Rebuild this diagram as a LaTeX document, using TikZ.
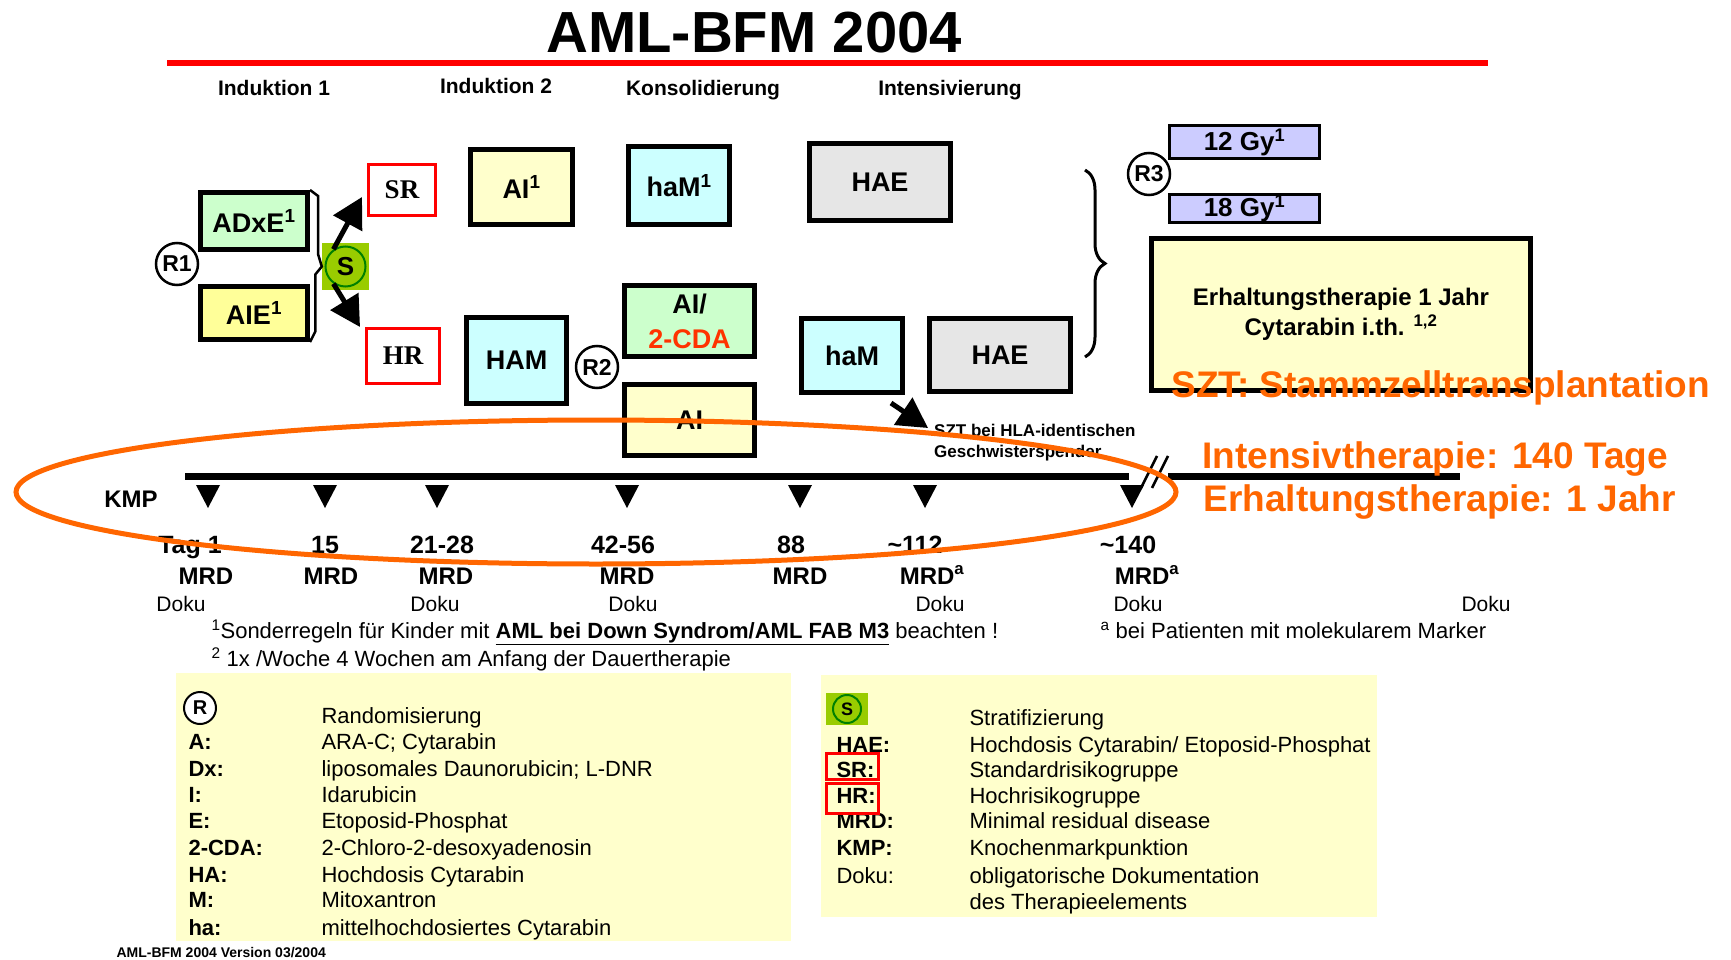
\documentclass[tikz,border=0pt]{standalone}
\usepackage{fontspec}
\setmainfont{Liberation Sans}
\newfontfamily\timesfont{Liberation Serif}
\usetikzlibrary{shapes,positioning,arrows.meta,calc,decorations.pathreplacing}

\definecolor{boxgreen}{HTML}{CCFFCC}
\definecolor{boxyellow}{HTML}{FFFF99}
\definecolor{paleyellow}{HTML}{FFFFCC}
\definecolor{boxcyan}{HTML}{CCFFFF}
\definecolor{boxgrey}{HTML}{E6E6E6}
\definecolor{boxlilac}{HTML}{CCCCFF}
\definecolor{sztorange}{HTML}{FF6600}
\definecolor{sgreen}{HTML}{99CC00}
\definecolor{sring}{HTML}{008000}
\definecolor{cdared}{HTML}{FF3300}

\newcommand{\fsz}[1]{\fontsize{#1}{#1}\selectfont}

\begin{document}
\begin{tikzpicture}[x=1pt,y=-1pt,
					therapy/.style={draw, line width=5pt, inner sep=0pt, font=\bfseries\fsz{27}},
					risk/.style={draw=red, line width=3pt, fill=white, inner sep=0pt, font=\timesfont\bfseries\fsz{27}},
					rnd/.style={draw, circle, line width=2.5pt, fill=white, minimum size=42pt, inner sep=0pt, font=\bfseries\fsz{23}},
					gy/.style={draw, line width=2.5pt, fill=boxlilac, inner sep=0pt, minimum width=150pt, font=\bfseries\fsz{26}},
					phase/.style={anchor=base, font=\bfseries\fsz{21}},
					day/.style={anchor=base, font=\bfseries\fsz{25}},
					mrd/.style={anchor=base, font=\bfseries\fsz{24}},
					doku/.style={anchor=base, font=\fsz{21}},
					bigtext/.style={anchor=base west, text=sztorange, font=\bfseries\fsz{37}},
					abbr/.style={anchor=base west, font=\bfseries\fsz{22}},
					expl/.style={anchor=base west, font=\fsz{22}},
					tip/.style={-{Triangle[length=30pt,width=32pt]}}]
	\useasboundingbox (0,0) rectangle (1731,960);

	\node[anchor=base, font=\bfseries\fsz{58}] (title) at (754,53) {AML-BFM 2004};
	\draw[red, line width=6pt] (167,63) -- (1488,63);

	\node[phase] (ind1) at (274,96) {Induktion 1};
	\node[phase] (ind2) at (496,94) {Induktion 2};
	\node[phase] (kons) at (703,96) {Konsolidierung};
	\node[phase] (intens) at (950,96) {Intensivierung};

	% Induktion 1
	\node[therapy, fill=boxgreen, minimum width=107pt, minimum height=57pt] (adxe) at (254,221) {ADxE\textsuperscript{1}};
	\node[therapy, fill=boxyellow, minimum width=107pt, minimum height=53pt] (aie) at (254,313) {AIE\textsuperscript{1}};
	\node[rnd] (r1) at (177,264) {R1};
	\node[fill=sgreen, minimum size=47pt, inner sep=0pt] (sq) at (345.5,266.5) {};
	\node[circle, fill=sgreen, draw=sring, line width=2pt, minimum size=40pt, inner sep=0pt, font=\bfseries\fsz{26}] (s) at (sq.center) {S};
	\draw[line width=2.5pt] (adxe.north east) -- ++(8,6) -- ++(0,58) -- (sq.west) -- ++(-6.5,8) -- ++(0,57) -- (aie.south east);
	\node[risk, minimum width=67pt, minimum height=51pt] (sr) at (402,190) {SR};
	\node[risk, minimum width=73pt, minimum height=55pt] (hr) at (403,356) {HR};
	\draw[line width=5pt, tip] (s.125) -- ([xshift=-5pt,yshift=-7pt]sr.west);
	\draw[line width=5pt, tip] (s.235) -- ([xshift=-5pt]hr.north west);

	% Induktion 2
	\node[therapy, fill=paleyellow, minimum width=102pt, minimum height=75pt] (ai1) at (521.5,187) {AI\textsuperscript{1}};
	\node[therapy, fill=boxcyan, minimum width=100pt, minimum height=86pt] (ham) at (516.5,360.5) {HAM};
	\node[rnd] (r2) at (597,367) {R2};

	% Konsolidierung
	\node[therapy, fill=boxcyan, minimum width=101pt, minimum height=78pt] (ham1) at (679,185.5) {haM\textsuperscript{1}};
	\node[therapy, fill=boxgreen, minimum width=130pt, minimum height=71pt, align=center, font=\bfseries\fontsize{27}{35}\selectfont] (aicda) at (689.5,321) {AI/\\\textcolor{cdared}{2-CDA}};
	\node[therapy, fill=paleyellow, minimum width=130pt, minimum height=71pt] (ai) at (689.5,420) {AI};

	% Intensivierung
	\node[therapy, fill=boxgrey, minimum width=141pt, minimum height=77pt] (hae1) at (880,182) {HAE};
	\node[therapy, fill=boxcyan, minimum width=101pt, minimum height=74pt] (ham2) at (852,355.5) {haM};
	\node[therapy, fill=boxgrey, minimum width=141pt, minimum height=73pt] (hae2) at (1000,355) {HAE};
	\draw[line width=3pt, decorate, decoration={brace, amplitude=20pt}] (1085,170) -- (1085,357);
	\node[anchor=north west, align=left, inner sep=0pt, font=\bfseries\fontsize{17}{21}\selectfont] (sztnote) at (934,424) {SZT bei HLA-identischen\\Geschwisterspender};
	\draw[line width=5pt, tip] ([xshift=-14pt,yshift=-8pt]ham2.south east) -- ([xshift=-6pt,yshift=-4pt]sztnote.north west);

	% Erhaltung
	\node[gy, minimum height=33pt] (gy12) at (1244.5,142) {12 Gy\textsuperscript{1}};
	\node[gy, minimum height=28pt] (gy18) at (1244.5,208.5) {18 Gy\textsuperscript{1}};
	\node[rnd] (r3) at (1149,174) {R3};
	\node[therapy, fill=paleyellow, minimum width=379pt, minimum height=152pt, align=center, font=\bfseries\fontsize{24}{30}\selectfont] (erh) at (1341,314.5) {Erhaltungstherapie 1 Jahr\\Cytarabin i.th. \textsuperscript{1,2}};

	% Zeitachse
	\draw[line width=7pt] (185,476) -- (1129,476);
	\draw[line width=7pt] (1168,476) -- (1460,476);
	\draw[line width=2.5pt] (1141,488) -- (1157,456) (1152,488) -- (1168,456);
	\node[anchor=base, font=\bfseries\fsz{24}] (kmp) at (131,507) {KMP};
	\foreach \tx in {208,325,437,627,800,925,1132}
		\fill (\tx-12,485) -- (\tx+12,485) -- (\tx,508) -- cycle;

	\node[day] (t1) at (190,553) {Tag 1};
	\node[day] (t15) at (325,553) {15};
	\node[day] (t21) at (442,553) {21-28};
	\node[day] (t42) at (623,553) {42-56};
	\node[day] (t88) at (791,553) {88};
	\node[day] (t112) at (915,553) {\textasciitilde112};
	\node[day] (t140) at (1128,553) {\textasciitilde140};

	\node[mrd] (m1) at (206,584) {MRD};
	\node[mrd] (m15) at (331,584) {MRD};
	\node[mrd] (m21) at (446,584) {MRD};
	\node[mrd] (m42) at (627,584) {MRD};
	\node[mrd] (m88) at (800,584) {MRD};
	\node[mrd] (m112) at (932,584) {MRD\textsuperscript{a}};
	\node[mrd] (m140) at (1147,584) {MRD\textsuperscript{a}};

	\node[doku] (k1) at (181,611) {Doku};
	\node[doku] (k21) at (435,611) {Doku};
	\node[doku] (k42) at (633,611) {Doku};
	\node[doku] (k112) at (940,611) {Doku};
	\node[doku] (k140) at (1138,611) {Doku};
	\node[doku] (kend) at (1486,611) {Doku};

	\node[expl] (fn1) at (208,638) {\textsuperscript{1}Sonderregeln für Kinder mit \textbf{\underline{AML bei Down Syndrom/AML FAB M3}} beachten !};
	\node[expl] (fn2) at (208,666) {\textsuperscript{2} 1x /Woche 4 Wochen am Anfang der Dauertherapie};
	\node[expl] (fna) at (1097,638) {\textsuperscript{a} bei Patienten mit molekularem Marker};

	% Legende
	\fill[paleyellow] (176,673) rectangle (791,941);
	\fill[paleyellow] (821,675) rectangle (1377,917);

	\node[rnd, minimum size=32pt, line width=2pt, font=\bfseries\fsz{20}] (rleg) at (200,708) {R};
	\node[expl] at (318,723) {Randomisierung};
	\node[abbr] at (185,749) {A:};
	\node[expl] at (318,749) {ARA-C; Cytarabin};
	\node[abbr] at (185,776) {Dx:};
	\node[expl] at (318,776) {liposomales Daunorubicin; L-DNR};
	\node[abbr] at (185,802) {I:};
	\node[expl] at (318,802) {Idarubicin};
	\node[abbr] at (185,828) {E:};
	\node[expl] at (318,828) {Etoposid-Phosphat};
	\node[abbr] at (185,855) {2-CDA:};
	\node[expl] at (318,855) {2-Chloro-2-desoxyadenosin};
	\node[abbr] at (185,882) {HA:};
	\node[expl] at (318,882) {Hochdosis Cytarabin};
	\node[abbr] at (185,907) {M:};
	\node[expl] at (318,907) {Mitoxantron};
	\node[abbr] at (185,935) {ha:};
	\node[expl] at (318,935) {mittelhochdosiertes Cytarabin};

	\node[fill=sgreen, minimum width=42pt, minimum height=32pt, inner sep=0pt] (sleg) at (847,709) {};
	\node[circle, draw=sring, line width=2pt, fill=sgreen, minimum size=28pt, inner sep=0pt, font=\bfseries\fsz{18}] at (sleg.center) {S};
	\node[expl] at (966,725) {Stratifizierung};
	\node[abbr] at (833,752) {HAE:};
	\node[expl] at (966,752) {Hochdosis Cytarabin/ Etoposid-Phosphat};
	\node[abbr] (srleg) at (833,777) {SR:};
	\node[expl] at (966,777) {Standardrisikogruppe};
	\node[abbr] (hrleg) at (833,803) {HR:};
	\node[expl] at (966,803) {Hochrisikogruppe};
	\node[abbr] at (833,828) {MRD:};
	\node[expl] at (966,828) {Minimal residual disease};
	\node[abbr] at (833,855) {KMP:};
	\node[expl] at (966,855) {Knochenmarkpunktion};
	\node[expl] at (833,883) {Doku:};
	\node[expl] at (966,883) {obligatorische Dokumentation};
	\node[expl] at (966,909) {des Therapieelements};
	\draw[red, line width=3pt] (826,753) rectangle (878,779);
	\draw[red, line width=3pt] (826,783) rectangle (878,813);

	\node[anchor=base west, font=\bfseries\fsz{14}] (ver) at (113,957) {AML-BFM 2004 Version 03/2004};

	% Markierung
	\draw[sztorange, line width=5pt] (596,492) ellipse [x radius=580, y radius=72];
	\node[bigtext] (szt) at (1168,397) {SZT: Stammzelltransplantation};
	\node[bigtext] (intdauer) at (1199,468) {Intensivtherapie: 140 Tage};
	\node[bigtext] (erhdauer) at (1200,511) {Erhaltungstherapie: 1 Jahr};
\end{tikzpicture}
\end{document}
